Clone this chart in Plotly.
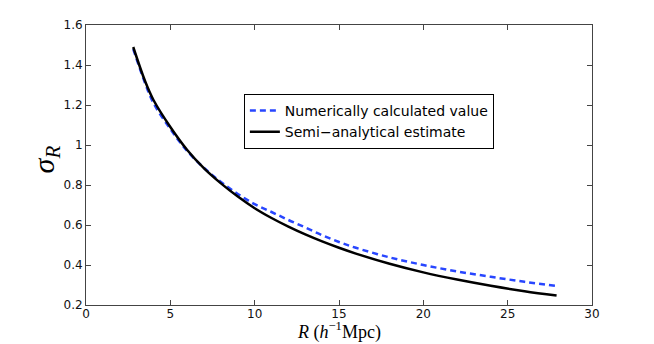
import plotly.graph_objects as go

# Radius R (h^-1 Mpc)
R = [2.8, 3.5, 4, 5, 6, 7, 8, 9, 10, 11, 12, 13, 14, 15, 16, 18, 20, 22, 24, 26, 27.9]
# Numerically calculated sigma_R (blue dashed)
sigma_num = [1.48, 1.31, 1.21, 1.08, 0.97, 0.885, 0.815, 0.755, 0.704, 0.665, 0.625, 0.588,
             0.549, 0.515, 0.486, 0.438, 0.40, 0.368, 0.341, 0.316, 0.295]
# Semi-analytical estimate (black solid)
sigma_semi = [1.49, 1.32, 1.225, 1.09, 0.975, 0.883, 0.808, 0.742, 0.684, 0.635, 0.592, 0.553,
              0.518, 0.486, 0.457, 0.406, 0.363, 0.327, 0.296, 0.269, 0.247]

xticks = [0, 5, 10, 15, 20, 25, 30]
yticks = [0.2, 0.4, 0.6, 0.8, 1.0, 1.2, 1.4, 1.6]
yticktext = ["0.2", "0.4", "0.6", "0.8", "1", "1.2", "1.4", "1.6"]

x_title = "<i>R</i> (<i>h</i><sup>\u22121</sup>Mpc)"
y_title = "<i>\u03c3</i><sub><i>R</i></sub>"

fig = go.Figure()
fig.add_trace(go.Scatter(
    x=R, y=sigma_num, mode="lines", name="Numerically calculated value",
    line=dict(color="rgb(40,70,255)", width=2.5, dash="6px,4px", shape="spline"),
))
fig.add_trace(go.Scatter(
    x=R, y=sigma_semi, mode="lines", name="Semi\u2212analytical estimate",
    line=dict(color="black", width=2.5, shape="spline"),
))

axis_common = dict(
    showgrid=False, zeroline=False, showline=True, linecolor="#444", linewidth=1,
    mirror="ticks", ticks="inside", ticklen=5, tickcolor="#444", tickwidth=1,
    automargin=False,
    tickfont=dict(family="DejaVu Sans, Liberation Sans, sans-serif", size=12, color="#111"),
)

fig.update_layout(
    width=654, height=344,
    margin=dict(l=86, r=62, t=25, b=39),
    paper_bgcolor="white", plot_bgcolor="white",
    showlegend=True,
    legend=dict(
        x=0.312, y=0.754, xanchor="left", yanchor="top",
        bordercolor="black", borderwidth=1, bgcolor="white",
        font=dict(family="DejaVu Sans, Liberation Sans, sans-serif", size=14, color="black"),
        itemwidth=30, tracegroupgap=0,
    ),
    xaxis=dict(range=[0, 30], tickvals=xticks, ticktext=[str(v) for v in xticks],
               ticklabelstandoff=-2, **axis_common),
    yaxis=dict(range=[0.2, 1.6], tickvals=yticks, ticktext=yticktext, **axis_common),
    annotations=[
        dict(text=x_title, xref="paper", yref="paper", x=0.5, y=0,
             xanchor="center", yanchor="bottom", yshift=-39, showarrow=False, borderpad=0,
             font=dict(family="Liberation Serif, DejaVu Serif, serif", size=18, color="black")),
        dict(text=y_title, xref="paper", yref="paper", x=0, y=0.52,
             xanchor="center", yanchor="middle", xshift=-40, textangle=-90, showarrow=False,
             font=dict(family="Liberation Serif, DejaVu Serif, serif", size=30, color="black")),
    ],
)

fig.write_html(
    "out.html",
    config={"displayModeBar": False},
    post_script="document.body.style.margin='0';document.body.style.overflow='hidden';",
)
